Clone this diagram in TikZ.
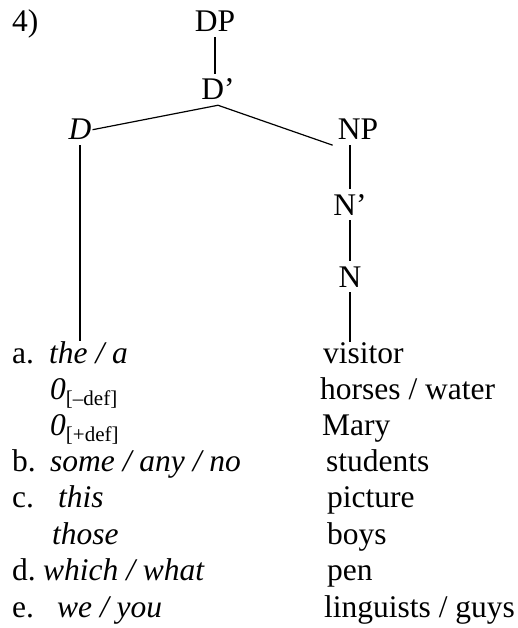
\documentclass[tikz,border=0pt]{standalone}
\usepackage{fontspec}
\setmainfont{Liberation Serif}
\usetikzlibrary{positioning}

\newcommand{\feat}[1]{\raisebox{-6pt}{\fontsize{21}{21}\selectfont[#1]}}

\begin{document}
\begin{tikzpicture}[x=1pt,y=-1pt,
  cat/.style={font=\fontsize{31.5}{36}\selectfont,inner sep=5pt,anchor=base},
  ex/.style={font=\fontsize{31.5}{36}\selectfont,inner sep=0pt,anchor=base west},
  br/.style={line width=1.2pt}]
  \useasboundingbox (0,0) rectangle (518,628);
  \node[ex] (num) at (12,32) {4)};
  % the tree
  \node[cat] (DP) at (215,32) {DP};
  \node[cat] (Dbar) at (218,100) {D’};
  \node[cat] (D) at (80,140) {\itshape D};
  \node[cat] (NP) at (358,140) {NP};
  \node[cat] (Nbar) at (350,215) {N’};
  \node[cat] (N) at (350,287) {N};
  % the examples
  \node[ex] (la) at (12,363) {a.};
  \node[ex] (thea) at (49,363) {\itshape the / a};
  \node[ex] (visitor) at (323,363) {visitor};
  \node[ex] (zerom) at (50,399) {\textit{0}\feat{–def}};
  \node[ex] (horses) at (320,399) {horses / water};
  \node[ex] (zerop) at (50,435) {\textit{0}\feat{+def}};
  \node[ex] (mary) at (322,435) {Mary};
  \node[ex] (lb) at (12,471) {b.};
  \node[ex] (some) at (50,471) {\itshape some / any / no};
  \node[ex] (students) at (326,471) {students};
  \node[ex] (lc) at (12,507) {c.};
  \node[ex] (this) at (58,507) {\itshape this};
  \node[ex] (picture) at (327,507) {picture};
  \node[ex] (those) at (52,544) {\itshape those};
  \node[ex] (boys) at (327,544) {boys};
  \node[ex] (ld) at (12,580) {d.};
  \node[ex] (which) at (43,580) {\itshape which / what};
  \node[ex] (pen) at (327,580) {pen};
  \node[ex] (le) at (12,617) {e.};
  \node[ex] (we) at (57,617) {\itshape we / you};
  \node[ex] (linguists) at (324,617) {linguists / guys};
  % branches
  \draw[br] (DP.south) -- (DP.south |- Dbar.north);
  \draw[br] (Dbar.south) -- ([xshift=-4pt]D.east);
  \draw[br] (Dbar.south) -- (NP.south west);
  \draw[br] (D.south) -- (D.south |- thea.north);
  \draw[br] (Nbar.north |- NP.south) -- (Nbar.north);
  \draw[br] (Nbar.south) -- (N.north);
  \draw[br] (N.south) -- (N.south |- visitor.north);
\end{tikzpicture}
\end{document}
